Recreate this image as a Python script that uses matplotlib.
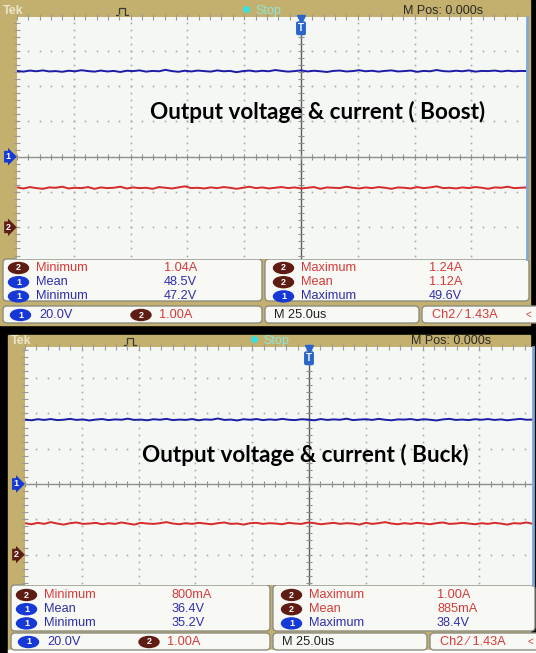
import numpy as np
import matplotlib as mpl
mpl.use('Agg')
import matplotlib.pyplot as plt
from matplotlib.patches import Rectangle, FancyBboxPatch, Ellipse

W, H = 536, 653

titles = ['Output voltage & current ( Boost)', 'Output voltage & current ( Buck)']

# readings shown in the measurement boxes: (channel, name, value)
meas_left = [
    [('2', 'Minimum', '1.04A'), ('1', 'Mean', '48.5V'), ('1', 'Minimum', '47.2V')],
    [('2', 'Minimum', '800mA'), ('1', 'Mean', '36.4V'), ('1', 'Minimum', '35.2V')],
]
meas_right = [
    [('2', 'Maximum', '1.24A'), ('2', 'Mean', '1.12A'), ('1', 'Maximum', '49.6V')],
    [('2', 'Maximum', '1.00A'), ('2', 'Mean', '885mA'), ('1', 'Maximum', '38.4V')],
]
ch1_scale = '20.0V'
ch2_scale = '1.00A'
time_scale = 'M 25.0us'
trigger = 'Ch2 \u2044 1.43A'
mpos = 'M Pos: 0.000s'

V_DIV = 20.0
A_DIV = 1.0

boost_v = [48.6, 48.2, 48.8, 48.4, 48.9, 48.3, 48.5, 48.1, 48.7, 48.4,
           49.0, 48.5, 48.2, 48.8, 48.3, 48.6, 48.0, 48.7, 48.5, 48.9,
           48.2, 48.6, 48.4, 49.2, 48.5, 48.1, 48.7, 48.3, 48.8, 48.5,
           48.2, 48.9, 48.4, 48.6, 47.9, 48.5, 48.8, 48.3, 48.7, 48.4,
           49.1, 48.6, 48.2, 48.5, 48.9, 48.3, 48.7, 48.4, 48.0, 48.6,
           48.8, 48.3, 48.5, 49.0, 48.4, 48.7, 48.2, 48.6, 48.9, 48.3,
           48.5, 48.8, 48.1, 48.6, 48.4, 49.1, 48.5, 48.3, 48.7, 48.4,
           48.9, 48.2, 48.6, 48.5, 48.8, 48.3, 48.7, 48.4, 48.6, 48.5]
boost_i = [1.13, 1.10, 1.14, 1.11, 1.09, 1.13, 1.12, 1.15, 1.10, 1.12,
           1.11, 1.14, 1.09, 1.13, 1.11, 1.12, 1.15, 1.10, 1.13, 1.11,
           1.12, 1.09, 1.14, 1.12, 1.10, 1.13, 1.16, 1.11, 1.12, 1.10,
           1.13, 1.11, 1.14, 1.12, 1.09, 1.12, 1.15, 1.11, 1.13, 1.10,
           1.12, 1.14, 1.11, 1.13, 1.10, 1.12, 1.14, 1.09, 1.13, 1.12,
           1.11, 1.15, 1.12, 1.10, 1.13, 1.11, 1.14, 1.12, 1.09, 1.13,
           1.12, 1.10, 1.14, 1.11, 1.13, 1.16, 1.11, 1.12, 1.10, 1.13,
           1.11, 1.14, 1.12, 1.09, 1.13, 1.12, 1.15, 1.11, 1.12, 1.13]
buck_v = [36.5, 36.1, 36.7, 36.3, 36.8, 36.2, 36.4, 36.9, 36.3, 36.6,
          36.0, 36.5, 36.8, 36.2, 36.6, 36.4, 37.0, 36.3, 36.5, 36.1,
          36.7, 36.4, 36.9, 36.2, 36.5, 36.3, 36.8, 36.1, 36.6, 36.4,
          37.1, 36.3, 36.5, 36.0, 36.7, 36.4, 36.8, 36.2, 36.6, 36.3,
          36.9, 36.4, 36.2, 36.7, 36.5, 36.1, 36.8, 36.3, 36.6, 36.4,
          37.0, 36.2, 36.5, 36.7, 36.3, 36.9, 36.4, 36.1, 36.6, 36.5,
          36.8, 36.2, 36.7, 36.4, 36.0, 36.6, 36.9, 36.3, 36.5, 36.2,
          36.7, 36.4, 36.8, 36.3, 36.6, 36.1, 36.5, 36.9, 36.4, 36.5]
buck_i = [0.89, 0.86, 0.90, 0.87, 0.92, 0.88, 0.85, 0.89, 0.91, 0.87,
          0.88, 0.90, 0.86, 0.89, 0.87, 0.91, 0.88, 0.85, 0.90, 0.88,
          0.87, 0.89, 0.92, 0.88, 0.86, 0.89, 0.87, 0.90, 0.88, 0.86,
          0.89, 0.91, 0.87, 0.88, 0.85, 0.89, 0.90, 0.87, 0.89, 0.88,
          0.86, 0.90, 0.88, 0.87, 0.91, 0.89, 0.86, 0.88, 0.90, 0.87,
          0.89, 0.88, 0.85, 0.90, 0.87, 0.89, 0.92, 0.88, 0.86, 0.89,
          0.87, 0.90, 0.88, 0.86, 0.89, 0.91, 0.87, 0.88, 0.90, 0.88,
          0.86, 0.89, 0.87, 0.90, 0.88, 0.85, 0.89, 0.88, 0.91, 0.87]
traces_v = [boost_v, buck_v]
traces_i = [boost_i, buck_i]

# colours
TAN = '#C3B06E'
GRID_BG = '#F4F7F3'
DOT = '#A8ACA8'
TR_BLUE = '#1C1CA6'
TR_RED = '#D42A2A'
TXT_RED = '#D43A3A'
TXT_BLUE = '#2E2EAA'
BADGE1 = '#1638D6'
BADGE2 = '#5E1C12'
EDGE = '#7FA8D8'
BOXFILL = '#F8F9F5'
BOXEDGE = '#8C8C80'
FONT = ['Liberation Sans', 'DejaVu Sans']

# pixel geometry of the two screen captures
panels = [
    dict(dx=0, top=0, head=17, grid_bot=259, meas_bot=301, stat_top=306,
         stat_bot=323, bottom=325, cy=156.7, title_xy=(318, 112), row0=268),
    dict(dx=8, top=335, head=347, grid_bot=585, meas_bot=631, stat_top=633,
         stat_bot=650, bottom=651, cy=484, title_xy=(305, 455), row0=595),
]
DIV_X, DIV_Y = 56.8, 35.3

fig = plt.figure(figsize=(W / 100, H / 100), dpi=100, facecolor='black')
back = fig.add_axes([0, 0, 1, 1])
back.set_xlim(0, W)
back.set_ylim(H, 0)
back.axis('off')
px = back.transData


def badge(ax, x, y, ch):
    col = BADGE1 if ch == '1' else BADGE2
    ax.add_patch(Ellipse((x, y), 20, 11, color=col, transform=px))
    ax.text(x, y, ch, transform=px, color='white', fontsize=6.5, fontweight='bold',
            ha='center', va='center', family=FONT)


for p, title, ml, mr, tv, ti in zip(panels, titles, meas_left, meas_right, traces_v, traces_i):
    x0 = p['dx']
    back.add_patch(Rectangle((x0, p['top']), 530 - x0, p['bottom'] - p['top'], color=TAN))
    if x0 > 0:
        back.add_patch(Rectangle((x0, p['bottom'] - 1), W - x0, H - p['bottom'] + 1, color='white'))

    # header strip
    hy = p['head'] - 6
    back.text(x0 + 3, hy, 'Tek', color='#ECE6CC', fontsize=9, fontweight='bold',
              va='center', family=FONT)
    back.plot(np.array([116, 119, 119, 125, 125, 128]) + x0,
              np.array([4, 4, -3, -3, 4, 4]) + hy, color='#3A3A30', lw=0.9)
    back.plot([x0 + 246], [hy - 2], marker='o', ms=5, color='#36E0E0', mew=0)
    back.text(x0 + 255, hy, 'Stop', color='#8EE6D6', fontsize=9, va='center', family=FONT)
    back.text(x0 + 403, hy, mpos, color='#2A2A26', fontsize=9, va='center', family=FONT)

    # measurement boxes
    for bx0, bx1 in [(x0 + 3, x0 + 262), (x0 + 265, min(x0 + 529, W - 1))]:
        back.add_patch(FancyBboxPatch((bx0, p['grid_bot']), bx1 - bx0, p['meas_bot'] - p['grid_bot'],
                                      boxstyle='round,pad=0,rounding_size=4',
                                      fc=BOXFILL, ec=BOXEDGE, lw=1))
    for bx0, bx1 in [(x0 + 3, x0 + 262), (x0 + 265, x0 + 419), (x0 + 422, W + 6)]:
        back.add_patch(FancyBboxPatch((bx0, p['stat_top']), bx1 - bx0, p['stat_bot'] - p['stat_top'],
                                      boxstyle='round,pad=0,rounding_size=4',
                                      fc=BOXFILL, ec=BOXEDGE, lw=1))

    for r, ((c1, n1, v1), (c2, n2, v2)) in enumerate(zip(ml, mr)):
        y = p['row0'] + 14.2 * r
        for (c, n, v), bx in [((c1, n1, v1), x0), ((c2, n2, v2), x0 + 265)]:
            col = TXT_BLUE if c == '1' else TXT_RED
            badge(back, bx + 18.5, y, c)
            back.text(bx + 36, y, n, color=col, fontsize=9.2, va='center', family=FONT)
            back.text(bx + 164, y, v, color=col, fontsize=9.2, va='center', family=FONT)

    sy = (p['stat_top'] + p['stat_bot']) / 2 + 0.5
    badge(back, x0 + 20.5, sy, '1')
    back.text(x0 + 39, sy, ch1_scale, color=TXT_BLUE, fontsize=9.2, va='center', family=FONT)
    badge(back, x0 + 141, sy, '2')
    back.text(x0 + 159, sy, ch2_scale, color=TXT_RED, fontsize=9.2, va='center', family=FONT)
    back.text(x0 + 273.5, sy, time_scale, color='#222222', fontsize=9.2, va='center', family=FONT)
    back.text(x0 + 432.5, sy, trigger, color=TXT_RED, fontsize=9.2, va='center', family=FONT)
    back.text(min(x0 + 525, 528), sy, '<', color=TXT_RED, fontsize=7, va='center', family=FONT)

    # graticule
    gx0 = 17 + x0
    gx1 = min(527 + x0, 533)
    cx = 301 + x0
    cy = p['cy']
    ax = fig.add_axes([gx0 / W, 1 - p['grid_bot'] / H, (gx1 - gx0) / W, (p['grid_bot'] - p['head']) / H])
    xl = ((gx0 - cx) / DIV_X, (gx1 - cx) / DIV_X)
    yl = (-(p['grid_bot'] - cy) / DIV_Y, (cy - p['head']) / DIV_Y)
    ax.set_xlim(*xl)
    ax.set_ylim(*yl)
    ax.set_facecolor(GRID_BG)
    ax.set_xticks([])
    ax.set_yticks([])
    for s in ['left', 'top', 'bottom']:
        ax.spines[s].set_visible(False)
    ax.spines['right'].set_color(EDGE)
    ax.spines['right'].set_linewidth(2)

    fy = np.arange(np.ceil(yl[0] * 5), np.floor(yl[1] * 5) + 1) / 5
    fx = np.arange(np.ceil(xl[0] * 5), np.floor(xl[1] * 5) + 1) / 5
    for k in range(-4, 5):
        if k != 0 and xl[0] < k < xl[1]:
            ax.plot(np.full(fy.size, k), fy, ls='none', marker='s', ms=1.2, mew=0, color=DOT)
    for m in range(-3, 5):
        if m != 0 and yl[0] < m < yl[1]:
            ax.plot(fx, np.full(fx.size, m), ls='none', marker='s', ms=1.2, mew=0, color=DOT)
    ax.axhline(0, color='#8E8E8E', lw=1)
    ax.axvline(0, color='#5E5E5E', lw=1)
    ax.plot(fx, np.zeros(fx.size), ls='none', marker='|', ms=4, mew=0.8, color='#8E8E8E')
    ax.plot(np.zeros(fy.size), fy, ls='none', marker='_', ms=5, mew=0.8, color='#8E8E8E')
    ax.plot(np.full(fy.size, xl[0]), fy, ls='none', marker='_', ms=5, mew=0.8, color='#9A9A9A',
            clip_on=False)
    ax.plot(fx, np.full(fx.size, yl[1]), ls='none', marker='|', ms=4, mew=0.8, color='#9A9A9A',
            clip_on=False)

    t = np.linspace(xl[0], xl[1], len(tv))
    ax.plot(t, np.array(tv) / V_DIV, color=TR_BLUE, lw=1.4)
    ax.plot(t, np.array(ti) / A_DIV - 2, color=TR_RED, lw=1.4)

    # trigger and channel markers
    ax.plot([0], [yl[1] - 0.05], marker='v', ms=6, color='#2A66C8', clip_on=False)
    ax.text(0, yl[1] - 0.32, 'T', color='white', fontsize=7, fontweight='bold', ha='center',
            va='center', family=FONT,
            bbox=dict(boxstyle='round,pad=0.2', fc='#2A66C8', ec='none'))
    ax.text(gx0 - 9, cy, '1', transform=px, color='white', fontsize=6.5, fontweight='bold',
            ha='center', va='center', family=FONT,
            bbox=dict(boxstyle='rarrow,pad=0.15', fc=BADGE1, ec='none'))
    ax.text(gx0 - 9, cy + 2 * DIV_Y, '2', transform=px, color='white', fontsize=6.5,
            fontweight='bold', ha='center', va='center', family=FONT,
            bbox=dict(boxstyle='rarrow,pad=0.15', fc=BADGE2, ec='none'))

    ax.text(*p['title_xy'], title, transform=px, ha='center', va='center', fontsize=16.2,
            fontweight='bold', family=['Lato', 'DejaVu Sans'], color='black')

fig.savefig('out.png', dpi=100, facecolor='black')
